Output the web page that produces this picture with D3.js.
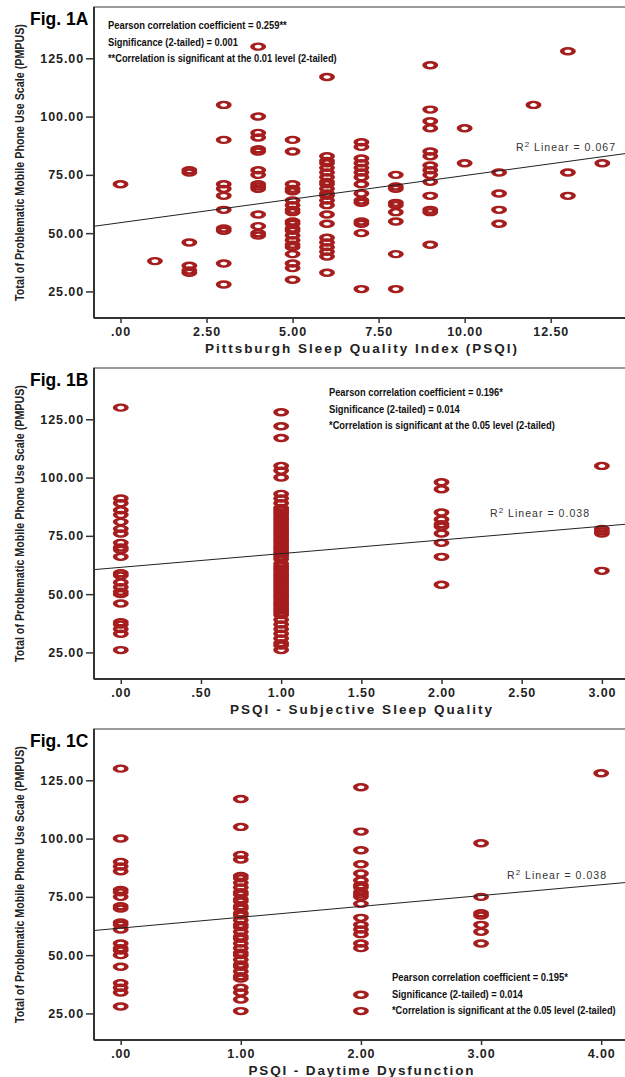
<!DOCTYPE html>
<html><head><meta charset="utf-8">
<script src="https://cdn.jsdelivr.net/npm/d3@7"></script>
<style>body{margin:0;background:#fff}svg{display:block}</style>
</head><body><svg id="c" width="625" height="1077"></svg>
<script>
// ---------- DATA ----------
const yTickValues = [25, 50, 75, 100, 125];

// Fig 1A: PSQI global score vs PMPUS
const psqiLevels = [0,1,2,3,4,5,6,7,8,9,10,11,12,13,14];
const psqiScores = [
  [71],
  [38],
  [77,76,46,36,34,33],
  [105,90,71,69,66,60,52,51,37,28],
  [130,100,93,91,86,85,77,75,71,70,69,58,53,50,49],
  [90,85,71,69,68,64,62,60,59,55,54,52,51,49,47,45,44,41,37,35,30],
  [117,83,81,80,78,76,74,72,71,69,67,66,64,62,58,54,48,46,44,42,40,33],
  [89,87,82,80,78,76,74,71,67,64,63,55,54,50,26],
  [75,70,69,63,62,59,55,41,26],
  [122,103,98,95,85,83,79,77,75,72,66,60,59,45],
  [95,80],
  [76,67,60,54],
  [105],
  [128,76,66],
  [80]
];
const psqiTicks = [0, 2.5, 5, 7.5, 10, 12.5];

// Fig 1B: Subjective sleep quality vs PMPUS
const sqLevels = [0,1,2,3];
const sqScores = [
  [130,91,89,86,84,81,78,76,72,70,69,66,59,58,55,53,51,50,46,38,37,35,33,26],
  [128,122,117,105,103,100,93,91,89,87,86,85,84,83,82,81,80,79,78,77,76,75,74,73,72,71,70,69,68,67,66,65,63,62,61,60,59,58,57,56,55,54,53,52,51,50,49,48,47,46,45,44,43,42,41,39,37,35,33,31,29,28,26],
  [98,95,85,82,80,79,76,72,66,54],
  [105,78,77,76,60]
];
const sqTicks = [0, 0.5, 1, 1.5, 2, 2.5, 3];

// Fig 1C: Daytime dysfunction vs PMPUS
const ddLevels = [0,1,2,3,4];
const ddScores = [
  [130,100,90,88,86,78,77,75,71,70,64,63,61,55,53,52,50,45,38,36,34,28],
  [117,105,93,91,84,83,81,79,77,76,74,73,71,70,68,67,65,63,62,60,58,57,55,53,51,50,48,46,45,43,41,40,36,34,31,26],
  [122,103,95,89,85,82,80,79,77,76,75,72,66,63,61,59,55,53,33,26],
  [98,75,68,67,63,60,55],
  [128]
];
const ddTicks = [0, 1, 2, 3, 4];

// Linear fit lines (as drawn in the figure)
const fitIntercepts = [54.5, 61.5, 61.6];
const fitSlopes = [2.02, 5.87, 4.65];
const r2Values = ["0.067", "0.038", "0.038"];

const figLabels = ["Fig. 1A", "Fig. 1B", "Fig. 1C"];
const xTitles = ["Pittsburgh Sleep Quality Index (PSQI)", "PSQI - Subjective Sleep Quality", "PSQI - Daytime Dysfunction"];
const yTitle = "Total of Problematic Mobile Phone Use Scale (PMPUS)";
const statsA = ["Pearson correlation coefficient = 0.259**", "Significance (2-tailed) = 0.001", "**Correlation is significant at the 0.01 level (2-tailed)"];
const statsB = ["Pearson correlation coefficient = 0.196*", "Significance (2-tailed) = 0.014", "*Correlation is significant at the 0.05 level (2-tailed)"];
const statsC = ["Pearson correlation coefficient = 0.195*", "Significance (2-tailed) = 0.014", "*Correlation is significant at the 0.05 level (2-tailed)"];

// ---------- LAYOUT ----------
const svg = d3.select("#c");
const left = 94, right = 626, plotH = 311;
const markColor = "#a51d1d";
const narrow = "'Liberation Sans Narrow','Arial Narrow','Liberation Sans',Arial,sans-serif";
const sans = "'Liberation Sans',Arial,Helvetica,sans-serif";
const fmt = v => { const s = d3.format(".2f")(v); return s.startsWith("0.") ? s.slice(1) : s; };

// squeeze a text horizontally to a target width (transform-based, so its box is real)
function squeeze(sel, tx, ty, rot, target) {
  const w = sel.node().getComputedTextLength();
  const s = Math.min(1, target / w);
  sel.attr("transform", `translate(${tx},${ty})${rot ? " rotate(" + rot + ")" : ""} scale(${s},1)`);
}

const panels = [
  {top: 7, levels: psqiLevels, scores: psqiScores, ticks: psqiTicks, xdom: [-0.77, 14.63],
   stats: statsA, statsX: 108, statsY: 29, statsLens: [179,130,229], r2x: 516, r2y: 151, xtLen: 312},
  {top: 368, levels: sqLevels, scores: sqScores, ticks: sqTicks, xdom: [-0.167, 3.138],
   stats: statsB, statsX: 329, statsY: 396, statsLens: [174,131,226], r2x: 490, r2y: 517, xtLen: 262},
  {top: 729, levels: ddLevels, scores: ddScores, ticks: ddTicks, xdom: [-0.222, 4.19],
   stats: statsC, statsX: 392, statsY: 981, statsLens: [176,131,224], r2x: 507, r2y: 879, xtLen: 225}
];

panels.forEach((p, i) => {
  const bottom = p.top + plotH;
  const x = d3.scaleLinear().domain([p.xdom[0], p.xdom[0] + (p.xdom[1]-p.xdom[0]) * (right-left)/(624-left)]).range([left, right]);
  const y = d3.scaleLinear().domain([13.6, 147]).range([bottom, p.top]);
  const g = svg.append("g");

  // frame
  g.append("rect").attr("x", left).attr("y", p.top).attr("width", right-left+4).attr("height", plotH)
    .attr("fill", "none").attr("stroke", "#7a7a7a").attr("stroke-width", 1.5);

  // clip
  const cid = "clip" + i;
  svg.append("clipPath").attr("id", cid).append("rect")
    .attr("x", left).attr("y", p.top).attr("width", right-left).attr("height", plotH);

  // points
  const pts = [];
  p.levels.forEach((lv, k) => p.scores[k].forEach(v => pts.push([lv, v])));
  g.append("g").selectAll("g").data(pts).join("g")
    .attr("transform", d => `translate(${x(d[0])},${y(d[1])}) scale(1.9,1)`)
    .append("circle").attr("r", 3).attr("fill", "none")
    .attr("stroke", markColor).attr("stroke-width", 2.4);

  // fit line
  const xd = x.domain();
  g.append("line").attr("clip-path", `url(#${cid})`)
    .attr("x1", x(xd[0])).attr("y1", y(fitIntercepts[i] + fitSlopes[i]*xd[0]))
    .attr("x2", x(xd[1])).attr("y2", y(fitIntercepts[i] + fitSlopes[i]*xd[1]))
    .attr("stroke", "#222").attr("stroke-width", 1);

  // axes
  const ya = g.append("g").attr("transform", `translate(${left},0)`)
    .call(d3.axisLeft(y).tickValues(yTickValues).tickFormat(fmt).tickSize(8).tickSizeOuter(0));
  const xa = g.append("g").attr("transform", `translate(0,${bottom})`)
    .call(d3.axisBottom(x).tickValues(p.ticks).tickFormat(fmt).tickSize(5).tickSizeOuter(0));
  [ya, xa].forEach(a => {
    a.select(".domain").remove();
    a.selectAll(".tick line").attr("stroke", "#333").attr("stroke-width", 1.5);
    a.selectAll(".tick text").attr("fill", "#222").style("font-family", sans)
      .style("font-size", "12.5px").style("font-weight", "bold").style("letter-spacing", "0.9px");
  });
  ya.selectAll(".tick text").attr("x", -10);
  xa.selectAll(".tick text").attr("y", 9);
  g.append("line").attr("x1", left).attr("x2", left).attr("y1", p.top).attr("y2", bottom)
    .attr("stroke", "#333").attr("stroke-width", 2);
  g.append("line").attr("x1", left).attr("x2", right).attr("y1", bottom).attr("y2", bottom)
    .attr("stroke", "#333").attr("stroke-width", 2);

  // fig label
  g.append("text").attr("x", 30).attr("y", p.top + 18).text(figLabels[i])
    .style("font-family", sans).style("font-size", "17.5px").style("font-weight", "bold").attr("fill", "#000");

  // y title
  const yt = g.append("text").attr("text-anchor", "middle").text(yTitle)
    .style("font-family", narrow).style("font-size", "13.5px").style("font-weight", "bold").attr("fill", "#222");
  squeeze(yt, 24, (p.top+bottom)/2, -90, 277);

  // x title
  g.append("text").attr("x", 361).attr("y", bottom + 35).attr("text-anchor", "middle").text(xTitles[i])
    .attr("textLength", p.xtLen).attr("lengthAdjust", "spacing")
    .style("font-family", sans).style("font-size", "13.5px").style("font-weight", "bold").attr("fill", "#222");

  // stats
  p.stats.forEach((s, k) => {
    const t = g.append("text").text(s)
      .style("font-family", narrow).style("font-size", "10.5px").style("font-weight", "bold").attr("fill", "#111");
    squeeze(t, p.statsX, p.statsY + k*16.5, 0, p.statsLens[k]);
  });

  // R2 label
  const r2 = g.append("text").attr("x", p.r2x).attr("y", p.r2y)
    .style("font-family", sans).style("font-size", "10.5px").attr("fill", "#333")
    .attr("textLength", 99).attr("lengthAdjust", "spacing");
  r2.append("tspan").text("R");
  r2.append("tspan").text("2").attr("dy", -4).style("font-size", "8px");
  r2.append("tspan").text(" Linear = " + r2Values[i]).attr("dy", 4);
});
</script>
</body></html>
